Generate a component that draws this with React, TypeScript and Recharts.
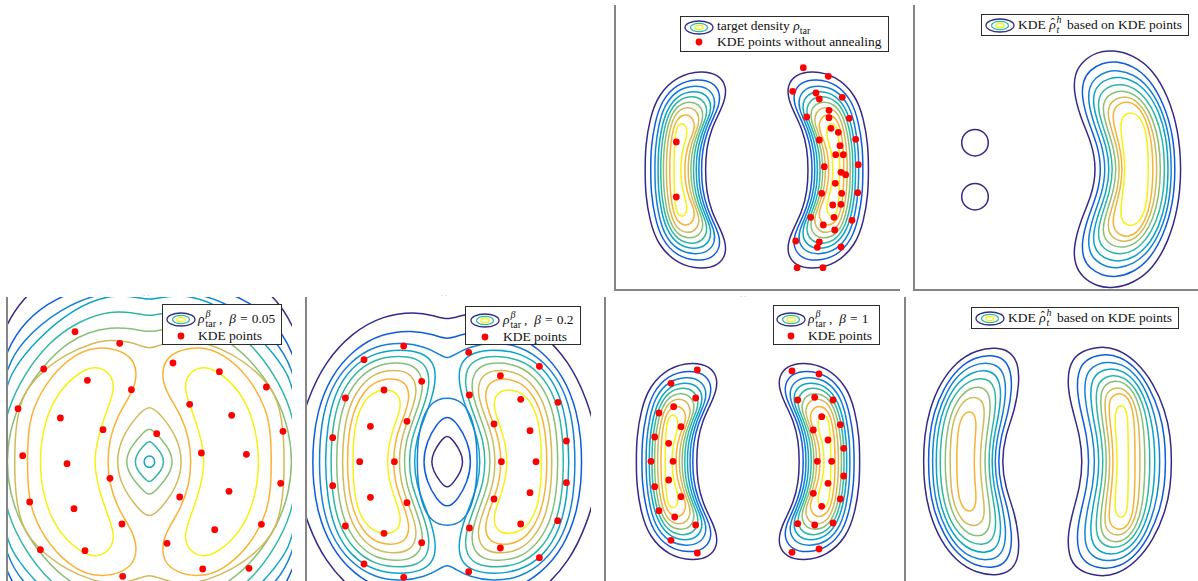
import React from 'react';
import { ScatterChart, Scatter, XAxis, YAxis } from 'recharts';

type Pt = [number, number];
type Contour = { level: number; pts: Pt[] };

// parula colours for the nine contour levels, low to high
const LEVEL_COLORS = ['#352A87', '#0F5CDD', '#1481D6', '#0BA4C9', '#2FB7A3', '#89BF76', '#D1BA58', '#F9B233', '#F5F20F'];

// Target density, right lobe, upper halves (inner mid -> tip -> top -> outer mid), one per level
const targetLobe: Pt[][] = [
  [[5.15, 0], [5.05, 2.1], [4.55, 4.1], [3.7, 5.8], [3.15, 7.1], [3.05, 8.45], [3.85, 9.55], [5.5, 9.95], [7.9, 9.45], [9.9, 7.5], [10.7, 5.1], [11.13, 2.5], [11.18, 0]],
  [[5.55, 0], [5.46, 1.9], [5.0, 3.75], [4.3, 5.3], [3.75, 6.5], [3.65, 7.75], [4.4, 8.8], [5.9, 9.15], [8.0, 8.65], [9.55, 6.9], [10.2, 4.7], [10.58, 2.3], [10.62, 0]],
  [[5.82, 0], [5.74, 1.8], [5.32, 3.5], [4.75, 4.95], [4.25, 6.05], [4.15, 7.2], [4.8, 8.15], [6.1, 8.5], [8.0, 8.05], [9.3, 6.4], [9.85, 4.35], [10.16, 2.15], [10.2, 0]],
  [[6.08, 0], [6.0, 1.7], [5.62, 3.3], [5.1, 4.65], [4.65, 5.65], [4.55, 6.7], [5.1, 7.6], [6.3, 7.95], [7.95, 7.5], [9.05, 5.95], [9.57, 4.05], [9.85, 2.0], [9.88, 0]],
  [[6.35, 0], [6.27, 1.6], [5.92, 3.1], [5.45, 4.35], [5.05, 5.3], [4.95, 6.25], [5.45, 7.1], [6.5, 7.45], [7.95, 7.0], [8.88, 5.55], [9.33, 3.8], [9.58, 1.9], [9.61, 0]],
  [[6.61, 0], [6.54, 1.5], [6.22, 2.85], [5.8, 4.0], [5.45, 4.9], [5.35, 5.8], [5.8, 6.6], [6.7, 6.9], [7.95, 6.5], [8.72, 5.15], [9.1, 3.5], [9.32, 1.75], [9.35, 0]],
  [[6.88, 0], [6.81, 1.4], [6.52, 2.65], [6.15, 3.7], [5.83, 4.5], [5.75, 5.35], [6.15, 6.05], [6.9, 6.35], [7.95, 5.95], [8.55, 4.7], [8.85, 3.2], [9.02, 1.6], [9.05, 0]],
  [[7.21, 0], [7.15, 1.25], [6.9, 2.35], [6.57, 3.25], [6.28, 3.95], [6.2, 4.7], [6.55, 5.35], [7.15, 5.6], [7.95, 5.2], [8.38, 4.1], [8.58, 2.8], [8.69, 1.4], [8.71, 0]],
  [[7.61, 0], [7.56, 1.1], [7.38, 2.1], [7.12, 2.95], [6.97, 3.7], [7.05, 4.35], [7.45, 4.72], [7.95, 4.45], [8.15, 3.5], [8.24, 2.4], [8.27, 1.2], [8.28, 0]],
];

// KDE density after annealing, right lobe (nine levels)
const kdeRightLobe: Pt[][] = [
  [[3.47, 0], [3.2, 2.52], [2.53, 4.85], [1.97, 7.18], [2.03, 9.4], [2.87, 10.85], [4.87, 11.52], [6.87, 11.35], [8.87, 10.02], [10.53, 7.85], [11.7, 5.18], [12.27, 2.52], [12.37, 0]],
  [[4.13, 0], [3.9, 2.5], [3.35, 4.7], [2.9, 6.9], [2.95, 8.9], [3.7, 10.2], [5.4, 10.78], [7.2, 10.55], [8.9, 9.3], [10.2, 7.3], [11.2, 4.9], [11.68, 2.4], [11.77, 0]],
  [[4.7, 0], [4.5, 2.4], [4.0, 4.5], [3.65, 6.6], [3.7, 8.4], [4.35, 9.5], [5.8, 10.02], [7.4, 9.8], [8.9, 8.6], [9.95, 6.8], [10.7, 4.6], [11.1, 2.3], [11.2, 0]],
  [[5.13, 0], [4.95, 2.3], [4.5, 4.4], [4.25, 6.3], [4.3, 7.9], [4.9, 8.9], [6.1, 9.35], [7.5, 9.1], [8.8, 8.0], [9.7, 6.3], [10.3, 4.3], [10.62, 2.2], [10.7, 0]],
  [[5.53, 0], [5.37, 2.2], [5.0, 4.2], [4.8, 6.0], [4.85, 7.4], [5.35, 8.25], [6.4, 8.68], [7.6, 8.45], [8.7, 7.4], [9.45, 5.9], [9.9, 4.1], [10.13, 2.1], [10.2, 0]],
  [[5.87, 0], [5.73, 2.2], [5.42, 4.1], [5.25, 5.8], [5.3, 7.0], [5.75, 7.75], [6.65, 8.12], [7.7, 7.9], [8.6, 6.9], [9.15, 5.5], [9.5, 3.9], [9.65, 2.0], [9.7, 0]],
  [[6.2, 0], [6.08, 2.1], [5.82, 3.9], [5.68, 5.5], [5.72, 6.5], [6.1, 7.12], [6.9, 7.45], [7.75, 7.2], [8.45, 6.3], [8.85, 5.1], [9.08, 3.6], [9.17, 1.9], [9.2, 0]],
  [[6.53, 0], [6.43, 2.0], [6.22, 3.8], [6.1, 5.2], [6.15, 6.1], [6.5, 6.62], [7.15, 6.85], [7.8, 6.6], [8.3, 5.8], [8.55, 4.6], [8.65, 3.2], [8.7, 1.6], [8.7, 0]],
  [[6.93, 0], [6.85, 1.9], [6.72, 3.5], [6.7, 4.6], [6.85, 5.35], [7.3, 5.68], [7.75, 5.4], [7.95, 4.5], [8.0, 3.2], [8.03, 1.6], [8.03, 0]],
];

// KDE density after annealing, left lobe (eight levels, no top level)
const kdeLeftLobe: Pt[][] = [
  [[-4.63, 0], [-4.3, 2.52], [-3.3, 5.18], [-2.87, 7.85], [-2.97, 9.85], [-3.8, 11.02], [-5.13, 11.42], [-7.13, 11.18], [-9.13, 10.02], [-10.8, 7.85], [-11.87, 5.18], [-12.37, 2.52], [-12.47, 0]],
  [[-5.0, 0], [-4.75, 2.4], [-3.95, 4.9], [-3.6, 7.3], [-3.7, 9.1], [-4.4, 10.3], [-5.6, 10.67], [-7.3, 10.45], [-9.0, 9.35], [-10.4, 7.4], [-11.45, 4.9], [-11.88, 2.4], [-11.97, 0]],
  [[-5.35, 0], [-5.12, 2.3], [-4.5, 4.7], [-4.2, 6.8], [-4.3, 8.5], [-4.9, 9.55], [-6.0, 9.9], [-7.5, 9.7], [-9.0, 8.7], [-10.2, 6.9], [-11.1, 4.6], [-11.48, 2.3], [-11.57, 0]],
  [[-5.65, 0], [-5.45, 2.3], [-4.95, 4.5], [-4.7, 6.4], [-4.8, 7.9], [-5.35, 8.85], [-6.3, 9.15], [-7.6, 8.95], [-8.95, 8.0], [-10.0, 6.4], [-10.75, 4.4], [-11.12, 2.2], [-11.2, 0]],
  [[-5.95, 0], [-5.78, 2.2], [-5.38, 4.3], [-5.2, 6.0], [-5.3, 7.3], [-5.8, 8.1], [-6.6, 8.35], [-7.75, 8.15], [-8.9, 7.3], [-9.8, 5.9], [-10.4, 4.1], [-10.72, 2.1], [-10.8, 0]],
  [[-6.35, 0], [-6.2, 2.1], [-5.9, 4.0], [-5.75, 5.5], [-5.85, 6.6], [-6.3, 7.3], [-7.0, 7.5], [-7.9, 7.3], [-8.8, 6.5], [-9.5, 5.3], [-9.95, 3.8], [-10.22, 2.0], [-10.3, 0]],
  [[-6.8, 0], [-6.68, 2.0], [-6.45, 3.7], [-6.35, 4.9], [-6.45, 5.8], [-6.85, 6.3], [-7.45, 6.45], [-8.2, 6.25], [-8.85, 5.5], [-9.35, 4.4], [-9.65, 3.1], [-9.75, 1.6], [-9.8, 0]],
  [[-7.4, 0], [-7.32, 1.8], [-7.2, 3.2], [-7.2, 4.2], [-7.45, 4.85], [-7.9, 5.0], [-8.4, 4.8], [-8.8, 4.0], [-9.0, 3.0], [-9.1, 1.6], [-9.13, 0]],
];

// KDE density from the unannealed points: one lobe (nine levels) ...
const rawKdeLobe: Pt[][] = [
  [[4.05, 0], [3.6, 2.6], [2.4, 5.25], [1.73, 7.9], [1.9, 9.6], [2.6, 10.75], [4.07, 11.75], [5.73, 11.92], [7.73, 11.42], [9.73, 9.92], [11.23, 7.25], [12.23, 3.92], [12.57, 0]],
  [[4.57, 0], [4.15, 2.5], [3.15, 4.9], [2.55, 7.3], [2.7, 8.9], [3.35, 9.9], [4.6, 10.65], [6.0, 10.82], [7.7, 10.35], [9.4, 9.0], [10.75, 6.6], [11.7, 3.6], [11.97, 0]],
  [[5.0, 0], [4.62, 2.4], [3.75, 4.6], [3.2, 6.8], [3.3, 8.2], [3.9, 9.15], [5.0, 9.78], [6.2, 9.92], [7.75, 9.5], [9.25, 8.3], [10.5, 6.2], [11.35, 3.4], [11.6, 0]],
  [[5.4, 0], [5.05, 2.3], [4.25, 4.4], [3.7, 6.4], [3.78, 7.7], [4.3, 8.55], [5.3, 9.1], [6.4, 9.25], [7.8, 8.85], [9.15, 7.75], [10.3, 5.8], [11.05, 3.2], [11.27, 0]],
  [[5.73, 0], [5.4, 2.2], [4.7, 4.2], [4.2, 6.0], [4.25, 7.1], [4.7, 7.9], [5.6, 8.4], [6.6, 8.52], [7.85, 8.15], [9.0, 7.1], [10.0, 5.4], [10.7, 3.0], [10.9, 0]],
  [[6.07, 0], [5.78, 2.1], [5.15, 4.0], [4.7, 5.6], [4.73, 6.6], [5.1, 7.3], [5.9, 7.75], [6.8, 7.85], [7.9, 7.5], [8.9, 6.5], [9.7, 5.0], [10.3, 2.8], [10.5, 0]],
  [[6.4, 0], [6.15, 2.0], [5.6, 3.8], [5.2, 5.2], [5.22, 6.1], [5.55, 6.75], [6.2, 7.15], [7.0, 7.25], [7.95, 6.95], [8.8, 6.0], [9.45, 4.6], [9.95, 2.6], [10.13, 0]],
  [[6.67, 0], [6.45, 1.9], [6.0, 3.6], [5.7, 4.9], [5.72, 5.7], [6.0, 6.3], [6.55, 6.65], [7.2, 6.75], [8.0, 6.45], [8.7, 5.55], [9.25, 4.2], [9.6, 2.4], [9.73, 0]],
  [[6.93, 0], [6.75, 1.8], [6.55, 3.3], [6.45, 4.4], [6.6, 5.2], [7.1, 5.6], [7.7, 5.65], [8.3, 5.3], [8.8, 4.4], [9.1, 3.1], [9.2, 1.6], [9.23, 0]],
];
// ... and two small low-level islands on the left
const rawKdeIslands: Pt[][] = [
  [[-6.63, 2.65], [-7.06, 3.69], [-8.1, 4.12], [-9.14, 3.69], [-9.57, 2.65], [-9.14, 1.61], [-8.1, 1.18], [-7.06, 1.61]],
  [[-6.63, -2.75], [-7.06, -1.71], [-8.1, -1.28], [-9.14, -1.71], [-9.57, -2.75], [-9.14, -3.79], [-8.1, -4.22], [-7.06, -3.79]],
];

// beta = 0.05: outer rings (quarter outlines from top centre to right mid), levels 0..6
const b005Envelope: Pt[][] = [
  [[0, 20], [6, 19.9], [10.5, 18.2], [12.7, 16.2], [14.2, 14.0], [15.8, 10], [16.8, 5], [17, 0]],
  [[0, 17.8], [5, 17.8], [9.5, 16.4], [12.5, 14.0], [14.24, 11.3], [15.5, 7], [16, 3], [16.1, 0]],
  [[0, 16.9], [4.5, 17.1], [9, 15.3], [12.8, 12.03], [14.24, 9.5], [15.3, 5], [15.7, 0]],
  [[0, 16.15], [1.5, 16.5], [4, 16.7], [7.5, 15.4], [11.5, 12.03], [13.6, 9.2], [14.24, 7.8], [15.1, 3.5], [15.3, 0]],
  [[0, 14.5], [1.5, 14.9], [4, 15.1], [7, 14.1], [10, 12.03], [12.5, 8.8], [14.24, 5.2], [14.7, 2], [14.8, 0]],
  [[0, 12.9], [1.5, 13.3], [4, 13.45], [6.2, 12.9], [8, 12.03], [10.5, 9.8], [12.8, 6.5], [14.0, 3.0], [14.3, 0]],
  [[0, 11.3], [0.9, 11.6], [2.0, 12.0], [4.0, 12.2], [5.6, 11.9], [8.3, 10.8], [10.8, 9.0], [12.7, 6.8], [13.4, 3.5], [13.5, 0]],
];
// beta = 0.05: left lobes, levels 7 and 8
const b005Lobes: Pt[][] = [
  [[-4.2, 0], [-4.0, 2.2], [-3.2, 4.6], [-1.9, 6.6], [-1.25, 8.2], [-1.4, 10.0], [-2.7, 11.1], [-5.0, 11.55], [-7.3, 10.9], [-10.0, 8.5], [-11.8, 5.1], [-12.15, 2.5], [-12.2, 0]],
  [[-5.5, 0], [-5.3, 1.8], [-4.5, 4.5], [-3.5, 7.0], [-3.65, 8.6], [-5.1, 9.6], [-6.6, 9.2], [-8.3, 7.85], [-9.6, 6.1], [-10.6, 3.5], [-11.05, 0]],
];
// beta = 0.05: rings round the central dip, levels 3..6
const b005Center: Pt[][] = [
  [[0, 0.62], [0.42, 0.44], [0.58, 0]],
  [[0, 2.2], [0.6, 1.55], [1.25, 0.8], [1.48, 0]],
  [[0, 3.55], [0.9, 2.6], [1.95, 1.35], [2.42, 0]],
  [[0, 5.85], [1.35, 4.45], [2.75, 2.5], [3.38, 0]],
];

// beta = 0.2: outer rings, levels 0..2
const b02Envelope: Pt[][] = [
  [[0, 14.17], [1.3, 14.6], [3.2, 15.0], [6.5, 14.6], [9.5, 12.9], [12.2, 10], [14.0, 6.2], [15.0, 2.5], [15.2, 0]],
  [[0, 12.17], [1.3, 12.7], [3.5, 13.15], [6.5, 12.85], [9.3, 11.3], [11.7, 8.5], [13.0, 5.0], [13.4, 2.0], [13.45, 0]],
  [[0, 10.24], [0.8, 10.75], [2.2, 11.5], [4.5, 11.95], [7.2, 11.65], [9.8, 10.0], [11.7, 7.3], [12.6, 4.0], [12.85, 0]],
];
// beta = 0.2: left lobes, levels 3..8
const b02Lobes: Pt[][] = [
  [[-3.33, 0], [-3.1, 2.2], [-2.3, 4.3], [-1.5, 6.4], [-1.1, 8.4], [-1.35, 10.0], [-2.6, 10.95], [-4.6, 11.25], [-7.2, 10.95], [-9.6, 9.5], [-11.3, 6.8], [-12.0, 3.5], [-12.23, 0]],
  [[-3.83, 0], [-3.62, 2.1], [-2.9, 4.1], [-2.15, 6.1], [-1.75, 7.9], [-1.95, 9.4], [-3.0, 10.35], [-4.8, 10.6], [-7.2, 10.3], [-9.3, 8.9], [-10.85, 6.4], [-11.5, 3.3], [-11.66, 0]],
  [[-4.33, 0], [-4.14, 2.0], [-3.5, 3.9], [-2.8, 5.8], [-2.4, 7.4], [-2.6, 8.8], [-3.5, 9.7], [-5.0, 9.95], [-7.2, 9.65], [-9.0, 8.3], [-10.35, 6.0], [-10.95, 3.1], [-11.1, 0]],
  [[-4.83, 0], [-4.66, 1.9], [-4.1, 3.7], [-3.45, 5.4], [-3.05, 6.9], [-3.2, 8.15], [-3.95, 8.95], [-5.3, 9.2], [-7.2, 8.9], [-8.7, 7.6], [-9.85, 5.5], [-10.38, 2.8], [-10.5, 0]],
  [[-5.4, 0], [-5.25, 1.8], [-4.75, 3.5], [-4.15, 5.0], [-3.8, 6.3], [-3.9, 7.4], [-4.5, 8.1], [-5.6, 8.35], [-7.2, 8.05], [-8.45, 6.9], [-9.4, 5.0], [-9.88, 2.6], [-10.0, 0]],
  [[-6.0, 0], [-5.85, 1.7], [-5.4, 3.2], [-4.95, 4.5], [-4.65, 5.5], [-4.75, 6.5], [-5.35, 7.1], [-6.3, 7.25], [-7.5, 6.9], [-8.5, 5.8], [-9.1, 4.2], [-9.38, 2.2], [-9.43, 0]],
];
// beta = 0.2: rings round the central dip, levels 0..2
const b02Center: Pt[][] = [
  [[0, 2.8], [0.75, 1.95], [1.4, 0.9], [1.6, 0]],
  [[0, 4.75], [1.1, 3.75], [2.05, 2.0], [2.45, 0]],
  [[0, 6.5], [1.55, 6.05], [2.5, 4.4], [2.95, 2.1], [3.0, 0]],
];

// particle positions
const pointsNoAnneal: Pt[] = [
  [4.65, 10.23], [7.15, 9.37], [3.59, 7.87], [5.92, 7.7], [6.25, 7.1], [8.55, 7.27], [7.22, 5.97], [4.99, 5.3], [7.22, 5.23], [9.25, 5.17],
  [7.42, 4.17], [8.15, 3.77], [6.25, 3.0], [9.89, 3.07], [8.32, 2.43], [7.89, 1.53], [8.65, 1.53], [10.15, 0.53], [6.75, 0.33], [8.42, -0.23],
  [8.89, -0.47], [7.85, -1.33], [6.49, -2.33], [8.49, -2.33], [10.09, -2.27], [7.59, -3.5], [8.42, -3.43], [5.39, -4.73], [7.72, -4.73], [9.52, -5.03],
  [6.65, -5.5], [7.79, -6.0], [3.89, -7.1], [6.25, -7.2], [6.05, -7.73], [8.42, -7.7], [4.03, -9.77], [6.62, -9.77], [-8.05, 2.8], [-8.05, -2.7],
];
const pointsB005: Pt[] = [
  [-7.44, 13.0], [-2.97, 11.84], [-10.57, 9.27], [-6.2, 8.14], [-1.8, 7.2], [-13.14, 5.3], [-8.9, 4.37], [-4.64, 3.2], [0.73, 2.8], [-12.67, 0.6],
  [-8.24, -0.2], [-3.94, -1.66], [-11.97, -4.03], [-7.54, -4.7], [3.03, -3.53], [-2.74, -6.23], [-10.9, -8.8], [-6.44, -8.9], [-2.67, -11.46], [2.36, 9.87],
  [7.0, 9.0], [11.7, 7.47], [4.03, 5.74], [8.23, 4.64], [13.36, 3.04], [5.2, 0.87], [9.7, 0.74], [13.13, -2.16], [7.96, -2.96], [6.53, -6.8],
  [11.2, -6.26], [1.76, -8.16], [5.33, -10.73], [9.96, -10.66],
];
const pointsB02: Pt[] = [
  [-4.35, 11.57], [-8.32, 10.2], [-2.55, 8.04], [-6.32, 7.17], [-10.18, 6.37], [-4.02, 4.04], [-7.68, 3.54], [-11.45, 2.4], [-8.75, 0], [-5.28, 0],
  [-11.45, -2.4], [-7.68, -3.56], [-4.02, -4.1], [-10.18, -6.43], [-6.32, -7.16], [-2.55, -8.1], [-8.32, -10.23], [-4.35, -11.56],
  [2.15, 10.94], [9.22, 9.54], [5.32, 8.6], [2.22, 6.67], [11.08, 5.94], [7.35, 6.24], [4.68, 3.77], [8.28, 3.1], [11.92, 2.07], [5.42, 0],
  [8.88, 0], [11.92, -2.1], [8.28, -3.1], [4.68, -3.73], [11.05, -5.9], [7.35, -6.23], [2.22, -6.63], [5.32, -8.63], [9.22, -9.6], [2.15, -11.0],
];
const pointsB1: Pt[] = [
  [-5.07, 9.15], [-7.7, 7.82], [-5.23, 6.35], [-8.9, 4.85], [-7.43, 5.48], [-6.7, 3.48], [-9.33, 2.45], [-7.93, 1.82], [-9.7, 0.02], [-7.5, 0.02],
  [-9.33, -2.52], [-7.93, -1.85], [-6.7, -3.52], [-8.9, -4.92], [-7.33, -5.55], [-5.23, -6.35], [-7.7, -7.88], [-5.07, -9.15],
  [4.4, 9.05], [7.1, 8.75], [4.97, 6.15], [6.67, 6.42], [8.5, 6.15], [7.37, 4.48], [9.23, 3.68], [6.53, 3.15], [8.0, 2.15], [9.57, 1.32],
  [6.93, 0.02], [8.37, 0.02], [9.57, -1.45], [8.0, -2.18], [6.53, -3.18], [9.23, -3.75], [7.37, -4.48], [4.97, -6.22], [6.67, -6.35], [8.5, -6.15],
  [4.4, -9.08], [7.1, -8.75],
];

// closing helpers: the densities are mirror-symmetric, so outlines are stored as halves / quarters
const lobe = (upper: Pt[]): Pt[] => [...upper, ...upper.slice(1, -1).reverse().map(([x, y]) => [x, -y] as Pt)];
const flipX = (pts: Pt[]): Pt[] => pts.map(([x, y]) => [-x, y] as Pt);
const ring = (q: Pt[]): Pt[] => {
  const right = [...q, ...q.slice(0, -1).reverse().map(([x, y]) => [x, -y] as Pt)];
  return [...right, ...right.slice(1, -1).reverse().map(([x, y]) => [-x, y] as Pt)];
};

const targetContours: Contour[] = [
  ...targetLobe.map((u, i) => ({ level: i, pts: lobe(u) })),
  ...targetLobe.map((u, i) => ({ level: i, pts: flipX(lobe(u)) })),
];
const kdeContours: Contour[] = [
  ...kdeRightLobe.map((u, i) => ({ level: i, pts: lobe(u) })),
  ...kdeLeftLobe.map((u, i) => ({ level: i, pts: lobe(u) })),
];
const rawKdeContours: Contour[] = [
  ...rawKdeLobe.map((u, i) => ({ level: i, pts: lobe(u) })),
  ...rawKdeIslands.map((pts) => ({ level: 0, pts })),
];
const b005Contours: Contour[] = [
  ...b005Envelope.map((q, i) => ({ level: i, pts: ring(q) })),
  ...b005Lobes.map((u, i) => ({ level: 7 + i, pts: lobe(u) })),
  ...b005Lobes.map((u, i) => ({ level: 7 + i, pts: flipX(lobe(u)) })),
  ...b005Center.map((q, i) => ({ level: 3 + i, pts: ring(q) })),
];
const b02Contours: Contour[] = [
  ...b02Envelope.map((q, i) => ({ level: i, pts: ring(q) })),
  ...b02Lobes.map((u, i) => ({ level: 3 + i, pts: lobe(u) })),
  ...b02Lobes.map((u, i) => ({ level: 3 + i, pts: flipX(lobe(u)) })),
  ...b02Center.map((q, i) => ({ level: i, pts: ring(q) })),
];

const SIZE = 285;
const SERIF = '"Liberation Serif", "Times New Roman", serif';
const AXIS_GREY = '#858585';

const NoMark = () => <g />;
const RedDot = (p: any) => <circle cx={p.cx} cy={p.cy} r={3.4} fill="#FF0000" />;

const toXY = (pts: Pt[]) => pts.map(([x, y]) => ({ x, y }));

interface PanelProps {
  left: number;
  top: number;
  xDomain: [number, number];
  yDomain: [number, number];
  contours: Contour[];
  dots?: Pt[];
}

const Panel: React.FC<PanelProps> = ({ left, top, xDomain, yDomain, contours, dots }) => (
  <div style={{ position: 'absolute', left, top, width: SIZE, height: SIZE }}>
    <ScatterChart width={SIZE} height={SIZE} margin={{ top: 0, right: 0, bottom: 0, left: 0 }}>
      <XAxis type="number" dataKey="x" domain={xDomain} allowDataOverflow hide />
      <YAxis type="number" dataKey="y" domain={yDomain} allowDataOverflow hide />
      {contours.map((c, i) => (
        <Scatter key={i} data={toXY(c.pts)} fill={LEVEL_COLORS[c.level]} shape={NoMark}
          line={{ stroke: LEVEL_COLORS[c.level], strokeWidth: 1.5 }} lineType="joint" lineJointType="basisClosed"
          isAnimationActive={false} legendType="none" />
      ))}
      {dots && <Scatter data={toXY(dots)} fill="#FF0000" shape={RedDot} isAnimationActive={false} legendType="none" />}
    </ScatterChart>
    {/* box-off axes: only the left and bottom spines */}
    <div style={{ position: 'absolute', left: -1, top: 0, width: 2, height: SIZE, background: AXIS_GREY }} />
    <div style={{ position: 'absolute', left: -1, top: SIZE - 1, width: SIZE + 1, height: 2, background: AXIS_GREY }} />
  </div>
);

const ContourIcon = () => (
  <svg width={30} height={15} style={{ display: 'block' }}>
    <ellipse cx={15} cy={7.5} rx={14} ry={6.5} fill="none" stroke={LEVEL_COLORS[0]} strokeWidth={1.3} />
    <ellipse cx={15} cy={7.5} rx={8.5} ry={4.2} fill="none" stroke={LEVEL_COLORS[4]} strokeWidth={1.3} />
    <ellipse cx={15} cy={7.5} rx={4} ry={2} fill="none" stroke={LEVEL_COLORS[8]} strokeWidth={1.3} />
  </svg>
);

const DotIcon = () => (
  <svg width={30} height={10} style={{ display: 'block' }}>
    <circle cx={15} cy={5} r={3.4} fill="#FF0000" />
  </svg>
);

// superscript stacked over a subscript, anchored at the text baseline
const Stack = ({ sup, sub, italicSub, w }: { sup: string; sub: string; italicSub?: boolean; w: number }) => (
  <span style={{ position: 'relative', display: 'inline-block', width: w, height: 0 }}>
    <span style={{ position: 'absolute', left: 1, top: -15, fontSize: 10, lineHeight: '11px', fontStyle: 'italic' }}>{sup}</span>
    <span style={{ position: 'absolute', left: 1, top: -5, fontSize: 10, lineHeight: '11px', fontStyle: italicSub ? 'italic' : 'normal' }}>{sub}</span>
  </span>
);

const RhoHat = () => (
  <span style={{ position: 'relative', fontStyle: 'italic' }}>
    ρ<span style={{ position: 'absolute', left: 1.5, top: -1, fontStyle: 'normal', fontSize: 12 }}>ˆ</span>
  </span>
);

interface LegendRow { icon: 'contour' | 'dot'; text: React.ReactNode }

const LegendBox = ({ left, top, width, height, rows, textLeft, rowTops }: {
  left: number; top: number; width: number; height: number; rows: LegendRow[]; textLeft: number; rowTops: number[];
}) => (
  <div style={{
    position: 'absolute', left, top, width, height, boxSizing: 'border-box',
    border: '1.2px solid #2b2b2b', background: '#fff', fontFamily: SERIF, fontSize: 13.5, color: '#111',
  }}>
    {rows.map((r, i) => (
      <div key={i} style={{ position: 'absolute', left: 0, top: rowTops[i], height: 16, display: 'flex', alignItems: 'center', whiteSpace: 'nowrap' }}>
        <div style={{ width: textLeft, display: 'flex', justifyContent: 'center' }}>
          {r.icon === 'contour' ? <ContourIcon /> : <DotIcon />}
        </div>
        <span>{r.text}</span>
      </div>
    ))}
  </div>
);

const betaText = (b: string) => (
  <>
    <i>ρ</i><Stack sup="β" sub="tar" w={14.5} />,<i style={{ marginLeft: 7 }}>β</i>
    <span style={{ margin: '0 4px' }}>=</span>{b}
  </>
);
const kdeText = (
  <>
    KDE <RhoHat /><Stack sup="h" sub="t" italicSub w={8} /> based on KDE points
  </>
);

const Crumb = ({ left, top }: { left: number; top: number }) => (
  <div style={{ position: 'absolute', left, top, fontFamily: SERIF, fontSize: 7, color: '#c4c4c4', lineHeight: '7px' }}>- -</div>
);

const App: React.FC = () => (
  <div style={{ position: 'absolute', left: 0, top: 0, width: 1198, height: 581, background: '#fff', overflow: 'hidden' }}>
    <Panel left={615} top={5} xDomain={[-14.18, 14.32]} yDomain={[-12.0, 16.5]} contours={targetContours} dots={pointsNoAnneal} />
    <Panel left={914} top={5} xDomain={[-14.2, 14.3]} yDomain={[-12.08, 16.42]} contours={rawKdeContours} />
    <Panel left={7} top={297} xDomain={[-14.24, 14.26]} yDomain={[-12.03, 16.47]} contours={b005Contours} dots={pointsB005} />
    <Panel left={306} top={297} xDomain={[-14.12, 14.38]} yDomain={[-12.03, 16.47]} contours={b02Contours} dots={pointsB02} />
    <Panel left={605} top={297} xDomain={[-14.3, 14.2]} yDomain={[-12.05, 16.45]} contours={targetContours} dots={pointsB1} />
    <Panel left={905} top={297} xDomain={[-14.3, 14.2]} yDomain={[-12.05, 16.45]} contours={kdeContours} />

    <Crumb left={143} top={292} />
    <Crumb left={441} top={292} />
    <Crumb left={740} top={293} />

    <LegendBox left={680} top={16} width={209} height={36} textLeft={36} rowTops={[2, 17]}
      rows={[
        { icon: 'contour', text: <>target density <i>ρ</i><sub style={{ fontSize: 10 }}>tar</sub></> },
        { icon: 'dot', text: 'KDE points without annealing' },
      ]} />
    <LegendBox left={981} top={14} width={208} height={22} textLeft={36} rowTops={[2]} rows={[{ icon: 'contour', text: kdeText }]} />
    <LegendBox left={162} top={304} width={120} height={41} textLeft={35} rowTops={[6, 23]}
      rows={[{ icon: 'contour', text: betaText('0.05') }, { icon: 'dot', text: 'KDE points' }]} />
    <LegendBox left={465} top={306} width={116} height={39} textLeft={37} rowTops={[5, 22]}
      rows={[{ icon: 'contour', text: betaText('0.2') }, { icon: 'dot', text: 'KDE points' }]} />
    <LegendBox left={773} top={305} width={107} height={40} textLeft={34} rowTops={[5, 22]}
      rows={[{ icon: 'contour', text: betaText('1') }, { icon: 'dot', text: 'KDE points' }]} />
    <LegendBox left={971} top={307} width={208} height={22} textLeft={36} rowTops={[2]} rows={[{ icon: 'contour', text: kdeText }]} />
  </div>
);

export default App;
